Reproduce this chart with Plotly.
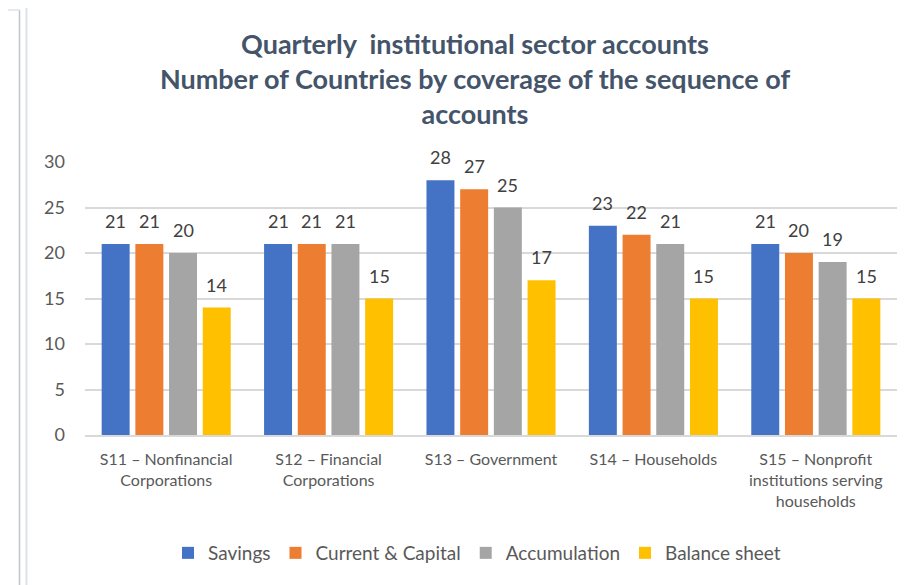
import plotly.graph_objects as go

categories = [
    "S11 – Nonfinancial<br>Corporations",
    "S12 – Financial<br>Corporations",
    "S13 – Government",
    "S14 – Households",
    "S15 – Nonprofit<br>institutions serving<br>households",
]
savings = [21, 21, 28, 23, 21]
current_capital = [21, 21, 27, 22, 20]
accumulation = [20, 21, 25, 21, 19]
balance_sheet = [14, 15, 17, 15, 15]

series = [
    ("Savings", savings, "#4472C4"),
    ("Current & Capital", current_capital, "#ED7D31"),
    ("Accumulation", accumulation, "#A5A5A5"),
    ("Balance sheet", balance_sheet, "#FFC000"),
]

# page body has an 8px default margin; figure sized to fit the window
OFF = 8
W, H = 907 - OFF, 585 - OFF
ML, MR, MT, MB = 85 - OFF, 10, 162 - OFF, 150
FONT = "Lato, 'Open Sans', sans-serif"
BARGAP = 0.17

fig = go.Figure()
for name, vals, col in series:
    fig.add_trace(go.Bar(
        x=categories, y=vals, name=name,
        marker=dict(color=col, line=dict(width=0)),
        hoverinfo="y+name",
    ))

# data labels
plot_w = W - ML - MR
slot = (1 - BARGAP) * plot_w / len(categories) / len(series)
annotations = []
for i, (name, vals, col) in enumerate(series):
    for cat, v in zip(categories, vals):
        annotations.append(dict(
            x=cat, y=v, xref="x", yref="y", text=str(v), showarrow=False,
            xanchor="center", yanchor="bottom",
            xshift=(i - (len(series) - 1) / 2) * slot, yshift=10,
            font=dict(size=18, color="#404040", family=FONT),
        ))

def px_x(p):
    return (p - OFF - ML) / plot_w

def px_y(p):
    return 1 - (p - OFF - MT) / (H - MT - MB)

shapes = [
    dict(type="line", xref="paper", yref="paper", x0=px_x(19.5), x1=px_x(19.5), y0=px_y(10), y1=px_y(590), line=dict(color="#C0C4CC", width=1.5)),
    dict(type="line", xref="paper", yref="paper", x0=px_x(26.5), x1=px_x(26.5), y0=px_y(8), y1=px_y(590), line=dict(color="#DDE2EC", width=2)),
    dict(type="line", xref="paper", yref="paper", x0=px_x(8), x1=px_x(19.5), y0=px_y(10), y1=px_y(10), line=dict(color="#DDE2EC", width=1.5)),
]

fig.update_layout(
    width=W, height=H,
    margin=dict(l=ML, r=MR, t=MT, b=MB, pad=0),
    paper_bgcolor="white", plot_bgcolor="white",
    barmode="group", bargap=BARGAP, bargroupgap=0.17,
    title=dict(
        text="<b>Quarterly  institutional sector accounts<br>Number of Countries by coverage of the sequence of<br>accounts</b>",
        x=(475 - OFF) / W, xanchor="center", y=1 - 46 / H, yanchor="top",
        font=dict(size=27, color="#44546A", family=FONT),
    ),
    font=dict(family=FONT, color="#595959"),
    yaxis=dict(
        range=[0, 30], dtick=5, showgrid=True, gridcolor="#D9D9D9", gridwidth=1.5,
        zeroline=False, showline=False, ticks="", ticklen=0,
        tickfont=dict(size=18, color="#595959", family=FONT),
        ticklabelstandoff=19,
    ),
    xaxis=dict(
        showline=True, linecolor="#D9D9D9", linewidth=1.5, ticks="",
        tickfont=dict(size=16, color="#595959", family=FONT),
        tickangle=0, ticklabelstandoff=9,
    ),
    legend=dict(
        orientation="h", x=(477 - OFF) / W, xanchor="center", xref="container",
        y=1 - (534 - OFF) / H, yref="container", yanchor="top",
        font=dict(size=19, color="#595959", family=FONT),
        itemwidth=30, traceorder="normal",
    ),
    annotations=annotations,
    shapes=shapes,
    showlegend=True,
)

fig.write_html("out.html")
